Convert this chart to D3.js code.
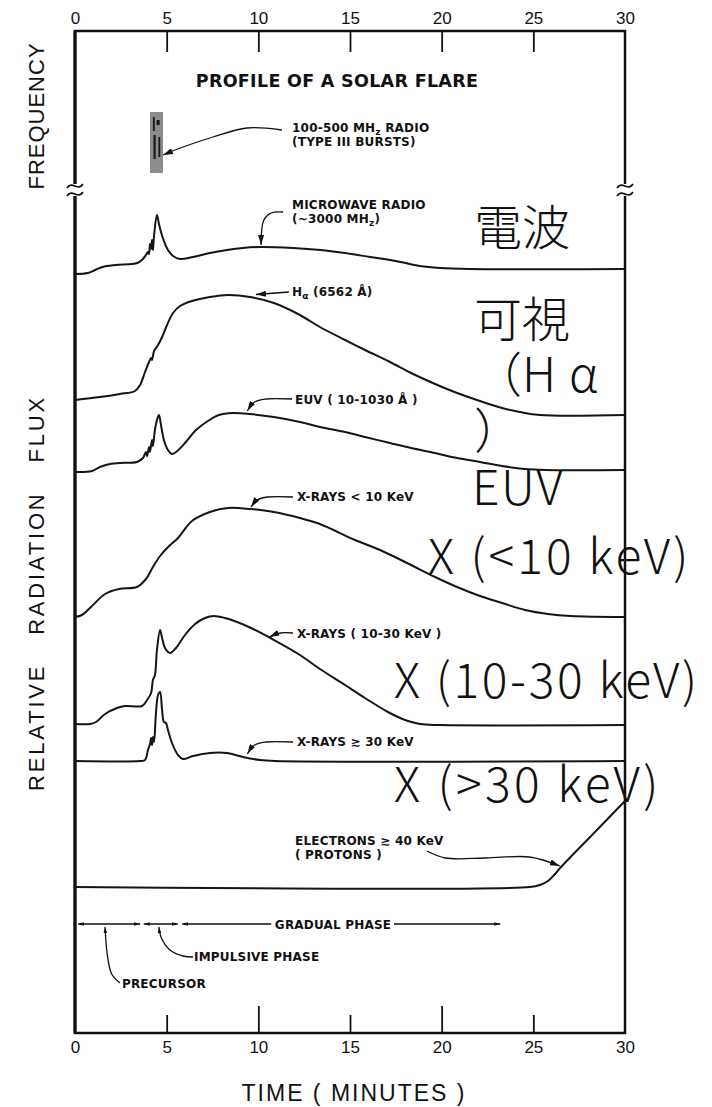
<!DOCTYPE html>
<html>
<head>
<meta charset="utf-8">
<script src="https://cdn.jsdelivr.net/npm/d3@7"></script>
<style>
    body { margin: 0; background: #fff; }
    svg text { font-family: "DejaVu Sans", sans-serif; fill: #111; }
    .note { font-size: 12px; font-weight: bold; letter-spacing: 0.2px; }
    .band { font-family: "Noto Sans CJK JP", sans-serif; font-size: 48px; font-weight: 300; fill: #111; }
</style>
</head>
<body>
<svg id="chart" width="712" height="1107"></svg>
<script>
var width = 712, height = 1107;
var plotLeft = 75, plotRight = 625, plotTop = 31, plotBottom = 1033;

// time axis, minutes
var timeTicks = [0, 5, 10, 15, 20, 25, 30];
var longTicks = [10, 20];

// traces as [minute, relative level], stacked from the top of the panel down
var microwave = [[0, 75.9], [0.7, 76.0], [1.1, 76.3], [1.5, 76.6], [2.2, 76.8], [3.4, 77.0], [3.7, 77.4], [3.87, 77.8],
    [3.98, 78.1], [4.04, 77.9], [4.09, 78.9], [4.15, 78.4], [4.2, 79.3], [4.25, 78.3], [4.31, 79.7], [4.47, 81.8],
    [4.58, 80.9], [4.69, 80.1], [4.85, 79.2], [5.07, 78.3], [5.35, 77.7], [5.73, 77.4], [6.44, 77.6], [7.36, 78.0],
    [8.29, 78.3], [9.16, 78.5], [10.1, 78.6], [11.9, 78.5], [13.4, 78.3], [14.7, 78.0], [16.1, 77.6], [17.5, 77.2],
    [18.8, 76.7], [19.9, 76.5], [21.5, 76.4], [30, 76.4]];
var halpha = [[0, 63.3], [1.36, 63.6], [2.45, 63.9], [3.27, 64.2], [3.55, 64.8], [3.82, 66.1], [4.04, 67.1], [4.15, 67.5],
    [4.2, 67.3], [4.31, 68.2], [4.42, 68.5], [4.53, 68.8], [4.75, 69.6], [5.02, 70.8], [5.35, 72.0], [5.73, 72.7],
    [6.38, 73.2], [7.36, 73.6], [8.35, 73.8], [9.55, 73.6], [10.85, 73.0], [12.27, 71.8], [13.36, 70.6], [14.73, 69.3],
    [15.82, 68.3], [17.18, 67.1], [18.33, 66.0], [19.64, 64.9], [20.84, 64.0], [22.09, 63.2], [23.29, 62.5],
    [24.27, 62.1], [25.36, 61.8], [30, 61.8]];
var euv = [[0, 56.1], [0.93, 56.2], [1.36, 56.6], [1.91, 56.9], [2.45, 57.0], [3.38, 57.1], [3.71, 57.5], [3.87, 58.1],
    [3.93, 57.7], [4.04, 58.6], [4.09, 58.1], [4.2, 59.3], [4.25, 58.7], [4.36, 60.3], [4.47, 61.3], [4.58, 61.8],
    [4.69, 60.8], [4.85, 59.3], [5.07, 58.3], [5.29, 57.9], [5.51, 58.1], [6.0, 59.0], [6.6, 60.3], [7.25, 61.2],
    [7.85, 61.8], [8.62, 62.0], [9.55, 61.9], [10.85, 61.6], [12.27, 61.1], [13.36, 60.6], [14.73, 60.1],
    [15.82, 59.6], [17.18, 59.0], [18.33, 58.5], [19.64, 58.0], [20.84, 57.5], [22.09, 57.1], [23.29, 56.7],
    [24.55, 56.4], [25.64, 56.3], [30, 56.3]];
var xraySoft = [[0, 41.6], [0.38, 41.8], [0.87, 42.6], [1.64, 43.9], [2.4, 44.4], [3.38, 44.6], [3.87, 45.4], [4.25, 46.6],
    [4.64, 47.7], [5.13, 48.7], [5.62, 49.5], [6.38, 51.2], [7.36, 52.1], [8.35, 52.5], [9.55, 52.4], [10.85, 52.1],
    [12.27, 51.5], [13.36, 50.9], [15.27, 49.3], [16.64, 48.3], [18.33, 46.8], [19.64, 45.6], [20.84, 44.6],
    [22.09, 43.7], [23.29, 43.0], [24.55, 42.3], [25.8, 41.9], [27.05, 41.7], [30, 41.6]];
var xrayMid = [[0, 30.9], [0.82, 30.9], [1.15, 31.1], [1.64, 31.9], [2.29, 32.5], [2.73, 32.7], [3.65, 32.7], [3.93, 33.3],
    [4.15, 34.0], [4.25, 35.3], [4.36, 35.8], [4.47, 38.3], [4.64, 40.3], [4.75, 39.5], [4.91, 38.5], [5.18, 38.0],
    [5.51, 38.5], [6.0, 39.8], [6.55, 40.9], [7.09, 41.5], [7.58, 41.7], [8.18, 41.5], [8.84, 41.1], [9.6, 40.5],
    [10.85, 39.3], [12.27, 37.8], [13.36, 36.4], [14.73, 34.8], [15.82, 33.5], [17.07, 32.1], [18.0, 31.3],
    [18.82, 30.9], [19.91, 30.8], [30, 30.8]];
var xrayHard = [[0, 27.2], [3.55, 27.2], [3.82, 27.3], [3.98, 28.3], [4.09, 28.9], [4.15, 29.5], [4.2, 28.8], [4.25, 29.6],
    [4.31, 29.1], [4.42, 32.1], [4.53, 33.8], [4.64, 34.1], [4.75, 32.3], [4.85, 31.1], [4.96, 31.0], [5.07, 30.3],
    [5.29, 29.0], [5.62, 27.8], [5.89, 27.4], [6.44, 27.7], [7.36, 28.0], [8.29, 28.0], [9.16, 27.6], [10.09, 27.3],
    [10.9, 27.2], [30, 27.2]];
var electrons = [[0, 14.6], [24.82, 14.6], [25.36, 14.8], [25.8, 15.2], [26.18, 15.9], [26.56, 16.7], [28.31, 20.0], [30, 23.2]];

// type III burst band: [t0, t1, low, high] and the dark bursts inside it
var typeIII = [4.09, 4.8, 86.0, 92.1];
var typeIIIBursts = [[4.28, 4.4, 87.4, 89.8], [4.55, 4.65, 87.6, 89.6], [4.25, 4.35, 90.2, 91.6], [4.45, 4.62, 90.8, 91.3]];

// phases: [start, end] in minutes
var precursor = [0.17, 3.55];
var impulsive = [3.75, 5.6];
var gradual = [5.85, 23.2];

// band names written over the figure
var bandNames = ['電波', '可視', '（Hα', '）', 'EUV', 'X (<10 keV)', 'X (10-30 keV)', 'X (>30 keV)'];
var bandAnchor = [[21.76, 78.8], [21.76, 69.6], [21.76, 64.1], [21.76, 58.5], [21.65, 52.8], [19.25, 45.9], [17.4, 33.5], [17.4, 23.1]];
var bandTrack = [0, 0, 0, 0, 1.5, 3, 2.6, 3.4];

var svg = d3.select('#chart');

var x = d3.scaleLinear().domain([0, 30]).range([plotLeft, plotRight]);
var y = d3.scaleLinear().domain([0, 100.2]).range([plotBottom, plotTop]);

var defs = svg.append('defs');
defs.append('marker').attr('id', 'head')
    .attr('viewBox', '0 0 10 6').attr('refX', 10).attr('refY', 3)
    .attr('markerWidth', 10).attr('markerHeight', 6)
    .attr('markerUnits', 'userSpaceOnUse').attr('orient', 'auto-start-reverse')
    .append('path').attr('d', 'M0,0L10,3L0,6z').attr('fill', '#111');
defs.append('marker').attr('id', 'small')
    .attr('viewBox', '0 0 10 6').attr('refX', 10).attr('refY', 3)
    .attr('markerWidth', 6).attr('markerHeight', 4)
    .attr('markerUnits', 'userSpaceOnUse').attr('orient', 'auto-start-reverse')
    .append('path').attr('d', 'M0,0L10,3L0,6z').attr('fill', '#111');

// frame
svg.append('rect')
    .attr('x', x(0)).attr('y', plotTop)
    .attr('width', x(30) - x(0)).attr('height', plotBottom - plotTop)
    .attr('fill', 'none').attr('stroke', '#111').attr('stroke-width', 2.5);
svg.append('line')
    .attr('x1', x(0)).attr('x2', x(0)).attr('y1', plotTop).attr('y2', plotBottom)
    .attr('stroke', '#111').attr('stroke-width', 3.2);

// axis break marks on both sides
[0, 30].forEach(function (t) {
    var bx = x(t), by = y(84.3);
    svg.append('rect').attr('x', bx - 3).attr('y', by - 6).attr('width', 6).attr('height', 12).attr('fill', '#fff');
    [-4, 4].forEach(function (off) {
        svg.append('path')
            .attr('d', 'M' + (bx - 8) + ',' + (by + off + 2) + ' C' + (bx - 3) + ',' + (by + off - 6) + ' ' + (bx + 3) + ',' + (by + off + 6) + ' ' + (bx + 8) + ',' + (by + off - 2))
            .attr('fill', 'none').attr('stroke', '#111').attr('stroke-width', 1.8);
    });
});

// top and bottom time axes
var topAxis = svg.append('g')
    .attr('transform', 'translate(0,' + plotTop + ')')
    .call(d3.axisTop(x).tickValues(timeTicks).tickSize(-21).tickPadding(7).tickFormat(d3.format('d')));
var bottomAxis = svg.append('g')
    .attr('transform', 'translate(0,' + plotBottom + ')')
    .call(d3.axisBottom(x).tickValues(timeTicks).tickSize(-18).tickPadding(8).tickFormat(d3.format('d')));

[topAxis, bottomAxis].forEach(function (g) {
    g.select('.domain').remove();
    g.attr('font-family', null).attr('font-size', null);
    g.selectAll('.tick line')
        .attr('stroke', '#111').attr('stroke-width', 1.8)
        .attr('opacity', function (d) { return (d == 0 || d == 30) ? 0 : 1; });
    g.selectAll('.tick text')
        .style('font-family', '"Liberation Sans", sans-serif')
        .style('font-size', '17px').attr('fill', '#111');
});
bottomAxis.selectAll('.tick line')
    .attr('y2', function (d) { return longTicks.indexOf(d) >= 0 ? -27 : -18; });

// traces
var line = d3.line()
    .x(function (d) { return x(d[0]); })
    .y(function (d) { return y(d[1]); })
    .curve(d3.curveCatmullRom.alpha(0.5));

[microwave, halpha, euv, xraySoft, xrayMid, xrayHard, electrons].forEach(function (s) {
    svg.append('path')
        .datum(s)
        .attr('d', line)
        .attr('fill', 'none')
        .attr('stroke', '#151515')
        .attr('stroke-width', 2)
        .attr('stroke-linejoin', 'round');
});

// type III burst band
svg.append('rect')
    .attr('x', x(typeIII[0])).attr('y', y(typeIII[3]))
    .attr('width', x(typeIII[1]) - x(typeIII[0])).attr('height', y(typeIII[2]) - y(typeIII[3]))
    .attr('fill', '#8c8c8c');
svg.selectAll('rect.burst')
    .data(typeIIIBursts)
    .enter().append('rect')
    .attr('class', 'burst')
    .attr('x', function (d) { return x(d[0]); })
    .attr('y', function (d) { return y(d[3]); })
    .attr('width', function (d) { return x(d[1]) - x(d[0]); })
    .attr('height', function (d) { return y(d[2]) - y(d[3]); })
    .attr('fill', '#1a1a1a');

// labels with pointer arrows
var pointer = d3.line()
    .x(function (d) { return x(d[0]); })
    .y(function (d) { return y(d[1]); })
    .curve(d3.curveCatmullRom.alpha(0.5));

var notes = [
    { at: [11.84, 90.1], lines: [['100-500 MH', 'z', ' RADIO'], ['(TYPE III BURSTS)']],
      arrow: [[11.29, 90.3], [9.38, 90.5], [7.53, 89.6], [5.89, 88.6], [4.8, 87.8]] },
    { at: [11.84, 82.4], lines: [['MICROWAVE  RADIO'], ['(~3000 MH', 'z', ')']],
      arrow: [[11.35, 82.1], [10.7, 82.0], [10.3, 81.3], [10.15, 78.8]] },
    { at: [11.84, 73.7], lines: [['H', 'α', ' (6562 Å)']],
      arrow: [[11.67, 74.1], [9.87, 73.85]] },
    { at: [12.0, 62.9], lines: [['EUV ( 10-1030 Å )']],
      arrow: [[11.84, 63.4], [10.4, 63.4], [9.8, 63.1], [9.4, 62.2]] },
    { at: [12.11, 53.2], lines: [['X-RAYS  <  10  KeV']],
      arrow: [[11.89, 53.6], [10.5, 53.6], [9.95, 53.3], [9.6, 52.6]] },
    { at: [12.11, 39.5], lines: [['X-RAYS ( 10-30  KeV )']],
      arrow: [[11.89, 40.0], [11.2, 40.0], [10.6, 39.6]] },
    { at: [12.11, 28.7], lines: [['X-RAYS  ≳  30  KeV']],
      arrow: [[11.89, 29.1], [10.4, 29.1], [9.8, 28.8], [9.4, 27.9]] },
    { at: [12.0, 18.8], lines: [['ELECTRONS  ≳ 40  KeV'], ['( PROTONS )']],
      arrow: [[19.2, 18.2], [20.2, 17.5], [22.4, 17.5], [24.8, 17.6], [26.45, 16.7]] }
];

notes.forEach(function (n) {
    var t = svg.append('text').attr('class', 'note')
        .attr('x', x(n.at[0])).attr('y', y(n.at[1]));
    n.lines.forEach(function (parts, i) {
        t.append('tspan').attr('x', x(n.at[0])).attr('dy', i == 0 ? 0 : 14).text(parts[0]);
        if (parts.length > 1) {
            t.append('tspan').attr('dy', 3).style('font-size', '9px').text(parts[1]);
            t.append('tspan').attr('dy', -3).text(parts[2]);
        }
    });
    svg.append('path')
        .datum(n.arrow)
        .attr('d', pointer)
        .attr('fill', 'none').attr('stroke', '#111').attr('stroke-width', 1.3)
        .attr('marker-end', 'url(#head)');
});

// title
svg.append('text')
    .attr('x', x(15) - 13).attr('y', 87)
    .attr('text-anchor', 'middle')
    .style('font-size', '17.5px').style('font-weight', 'bold').style('letter-spacing', '0.3px')
    .text('PROFILE OF A SOLAR FLARE');

// phase bar
var phaseY = y(10.9);
[precursor, impulsive].forEach(function (p) {
    svg.append('line')
        .attr('x1', x(p[0])).attr('x2', x(p[1])).attr('y1', phaseY).attr('y2', phaseY)
        .attr('stroke', '#111').attr('stroke-width', 1.4)
        .attr('marker-start', 'url(#small)').attr('marker-end', 'url(#small)');
});
svg.append('line')
    .attr('x1', x(gradual[0])).attr('x2', x(10.7)).attr('y1', phaseY).attr('y2', phaseY)
    .attr('stroke', '#111').attr('stroke-width', 1.4).attr('marker-start', 'url(#small)');
svg.append('line')
    .attr('x1', x(17.4)).attr('x2', x(gradual[1])).attr('y1', phaseY).attr('y2', phaseY)
    .attr('stroke', '#111').attr('stroke-width', 1.4).attr('marker-end', 'url(#small)');
svg.append('text').attr('class', 'note')
    .attr('x', x(10.9)).attr('y', phaseY + 4.5)
    .text('GRADUAL  PHASE');

svg.append('path')
    .datum([[6.44, 7.6], [5.89, 7.7], [5.18, 8.3], [4.69, 9.6], [4.58, 10.6]])
    .attr('d', pointer)
    .attr('fill', 'none').attr('stroke', '#111').attr('stroke-width', 1.3)
    .attr('marker-end', 'url(#small)');
svg.append('text').attr('class', 'note')
    .attr('x', x(6.49)).attr('y', y(7.2))
    .text('IMPULSIVE  PHASE');

svg.append('path')
    .datum([[2.45, 5.0], [2.0, 5.9], [1.75, 8.0], [1.64, 10.6]])
    .attr('d', pointer)
    .attr('fill', 'none').attr('stroke', '#111').attr('stroke-width', 1.3)
    .attr('marker-end', 'url(#small)');
svg.append('text').attr('class', 'note')
    .attr('x', x(2.56)).attr('y', y(4.5))
    .text('PRECURSOR');

// axis titles
svg.append('text')
    .attr('transform', 'translate(' + 44 + ',' + 116 + ') rotate(-90)')
    .attr('text-anchor', 'middle')
    .style('font-family', '"Liberation Sans", sans-serif')
    .style('font-size', '22px').style('letter-spacing', '1px')
    .text('FREQUENCY');
svg.append('text')
    .attr('transform', 'translate(' + 44 + ',' + 593 + ') rotate(-90)')
    .attr('text-anchor', 'middle')
    .style('font-family', '"Liberation Sans", sans-serif')
    .style('font-size', '22px').style('letter-spacing', '2.8px').style('word-spacing', '20px')
    .text('RELATIVE RADIATION FLUX');
svg.append('text')
    .attr('x', x(15) + 4).attr('y', 1101)
    .attr('text-anchor', 'middle')
    .style('font-family', '"Liberation Sans", sans-serif')
    .style('font-size', '23px').style('letter-spacing', '2px')
    .text('TIME ( MINUTES )');

// band names over the figure; the CJK alpha sits on a full-width cell
svg.selectAll('text.band')
    .data(bandNames)
    .enter().append('text')
    .attr('class', 'band')
    .attr('x', function (d, i) { return x(bandAnchor[i][0]); })
    .attr('y', function (d, i) { return y(bandAnchor[i][1]); })
    .style('letter-spacing', function (d, i) { return bandTrack[i] + 'px'; })
    .each(function (d) {
        var el = d3.select(this);
        var k = d.indexOf('α');
        if (k < 0) { el.text(d); return; }
        el.append('tspan').text(d.slice(0, k));
        el.append('tspan').attr('dx', 13).text(d.slice(k));
    });
</script>
</body>
</html>
